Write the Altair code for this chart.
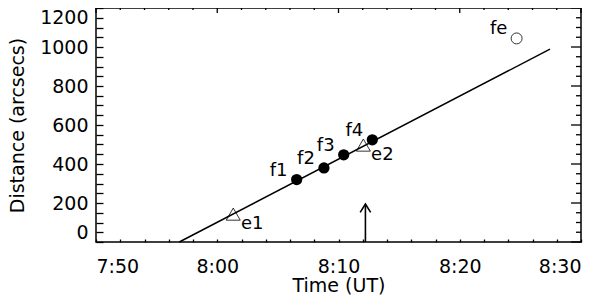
import altair as alt
import pandas as pd

# ---- data (time in minutes after 00:00 UT) ----
labels = ["e1", "f1", "f2", "f3", "e2", "f4", "fe"]
kinds = ["e", "f", "f", "f", "e", "f", "fe"]
times = [481.32, 486.55, 488.80, 490.43, 492.05, 492.79, 504.69]
dists = [143, 320, 380, 447, 497, 524, 1044]

fit_t = [476.87, 507.44]
fit_d = [0, 989]

arrow_t = [492.22]
arrow_d0 = [0]
arrow_d1 = [195]

x_major = [470, 480, 490, 500, 510]
x_all = list(range(470, 511, 2))
x_minor = [t for t in x_all if t % 10 != 0]
y_major = list(range(0, 1201, 200))
y_all = list(range(0, 1201, 50))
y_minor = [d for d in y_all if d % 200 != 0]

F = "DejaVu Sans"
W, H = 485, 234

pts = pd.DataFrame({"label": labels, "kind": kinds, "t": times, "d": dists})
fit = pd.DataFrame({"t": fit_t, "d": fit_d})
arrow = pd.DataFrame({"t": arrow_t, "d0": arrow_d0, "d1": arrow_d1})

xs = alt.Scale(domain=[470, 510], nice=False, zero=False)
ys = alt.Scale(domain=[0, 1200], nice=False, zero=False)

x_label_expr = ("datum.value % 10 == 0 ? floor(datum.value/60) + ':' + "
                "(datum.value % 60 < 10 ? '0' : '') + (datum.value % 60) : ''")
y_label_expr = "datum.value % 200 == 0 ? datum.label : ''"

AX = alt.Axis(orient="bottom", values=x_all, ticks=True, tickSize={"expr": "-3"},
              tickColor="black", tickWidth=1.3, domain=False,
              grid=False, labelExpr=x_label_expr, labelPadding=18, labelFont=F,
              labelFontSize=19, labelColor="black", title="Time (UT)", titleFont=F,
              titleFontSize=19, titleFontWeight="normal", titleColor="black",
              titleY=49, titleBaseline="alphabetic")
AY = alt.Axis(orient="left", values=y_all, format="d", ticks=True, tickSize={"expr": "-7"},
              tickColor="black", tickWidth=1.3, labelExpr=y_label_expr,
              domain=False, grid=False, labelPadding=15, labelFont=F, labelFontSize=19,
              labelColor="black", labelFlush=True, title="Distance (arcsecs)",
              titleFont=F, titleFontSize=19, titleFontWeight="normal",
              titleColor="black", titleX=-73, titleBaseline="alphabetic")


def X(field):
    return alt.X(field, scale=xs, axis=AX)


def Y(field):
    return alt.Y(field, scale=ys, axis=AY)


def x_ticks(vals, length):
    """Inward tick marks along the top frame, placed by the x scale."""
    return alt.Chart(pd.DataFrame({"v": vals})).mark_rule(
        color="black", strokeWidth=1.3
    ).encode(x=X("v:Q"), y=alt.value(0), y2=alt.value(length))


def y_ticks(vals, length):
    """Inward tick marks along the right frame, placed by the y scale."""
    return alt.Chart(pd.DataFrame({"v": vals})).mark_rule(
        color="black", strokeWidth=1.3
    ).encode(y=Y("v:Q"), x=alt.value(W), x2=alt.value(W - length))


line = alt.Chart(fit).mark_line(color="black", strokeWidth=1.5).encode(
    x=X("t:Q"), y=Y("d:Q"),
)

filled = alt.Chart(pts).transform_filter("datum.kind == 'f'").mark_point(
    shape="circle", filled=True, color="black", size=127, opacity=1
).encode(x=X("t:Q"), y=Y("d:Q"))

tri = alt.Chart(pts).transform_filter("datum.kind == 'e'").mark_point(
    shape="triangle-up", filled=False, color="black", size=196, strokeWidth=0.8, opacity=1
).encode(x=X("t:Q"), y=Y("d:Q"))

circ = alt.Chart(pts).transform_filter("datum.kind == 'fe'").mark_point(
    shape="circle", filled=False, color="black", size=120, strokeWidth=0.8, opacity=1
).encode(x=X("t:Q"), y=Y("d:Q"))

txt_ul = alt.Chart(pts).transform_filter("datum.kind != 'e'").mark_text(
    font=F, fontSize=18, color="black", dx=-18, dy=-9, align="center", baseline="middle"
).encode(x=X("t:Q"), y=Y("d:Q"), text="label:N")

txt_dr = alt.Chart(pts).transform_filter("datum.kind == 'e'").mark_text(
    font=F, fontSize=18, color="black", dx=19, dy=10, align="center", baseline="middle"
).encode(x=X("t:Q"), y=Y("d:Q"), text="label:N")

arrow_shaft = alt.Chart(arrow).mark_rule(color="black", strokeWidth=1.6).encode(
    x=X("t:Q"), y=Y("d0:Q"), y2="d1:Q",
)

arrow_head = alt.Chart(arrow).mark_point(
    shape="M -1 1.6 L 0 0 L 1 1.6", filled=False, color="black", size=110,
    strokeWidth=1.6, opacity=1
).encode(x=X("t:Q"), y=Y("d1:Q"))

chart = alt.layer(
    line,
    x_ticks(x_major, 5), x_ticks(x_minor, 2),
    y_ticks(y_major, 10), y_ticks(y_minor, 5),
    filled, tri, circ, txt_ul, txt_dr, arrow_shaft, arrow_head,
).properties(
    width=W, height=H,
    autosize=alt.AutoSizeParams(type="none"),
    padding={"left": 88, "top": 0, "right": 10, "bottom": 62},
    background="white",
).configure_view(
    stroke="black", strokeWidth=1.5
)

chart.save("out.html", embed_options={"renderer": "svg", "actions": False})
